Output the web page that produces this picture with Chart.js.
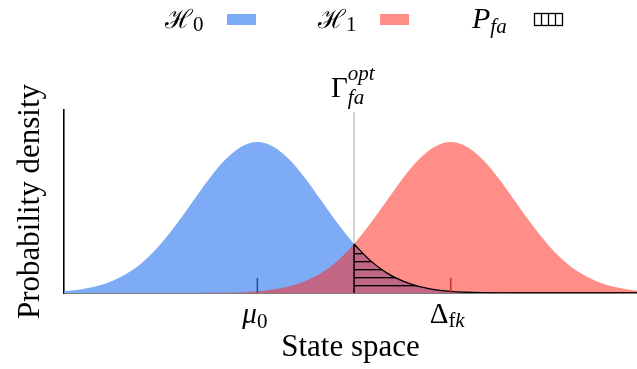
<!DOCTYPE html>
<html>
<head>
<meta charset="utf-8">
<script src="https://cdn.jsdelivr.net/npm/chart.js@4.4.1/dist/chart.umd.min.js"></script>
<style>
  body { margin: 0; background: #fff; }
  #wrap { width: 637px; height: 369px; }
</style>
</head>
<body>
<div id="wrap"><canvas id="myChart" width="637" height="369"></canvas></div>
<script>
"use strict";

// state space, in units of sigma (mu0 = 0, Delta_fk = 3)
const stateX = [-3, -2.75, -2.5, -2.25, -2, -1.75, -1.5, -1.25, -1, -0.75, -0.5, -0.25,
	0, 0.25, 0.5, 0.75, 1, 1.25, 1.5, 1.75, 2, 2.25, 2.5, 2.75,
	3, 3.25, 3.5, 3.75, 4, 4.25, 4.5, 4.75, 5, 5.25, 5.5, 5.75, 5.89];

// normalised densities (peak = 1)
const h0Density = [0.011, 0.023, 0.044, 0.080, 0.135, 0.216, 0.325, 0.458, 0.607, 0.755, 0.882, 0.969,
	1.000, 0.969, 0.882, 0.755, 0.607, 0.458, 0.325, 0.216, 0.135, 0.080, 0.044, 0.023,
	0.011, 0.005, 0.002, 0.001, 0, 0, 0, 0, 0, 0, 0, 0, 0];
const h1Density = [0, 0, 0, 0, 0, 0, 0, 0, 0, 0.001, 0.002, 0.005,
	0.011, 0.023, 0.044, 0.080, 0.135, 0.216, 0.325, 0.458, 0.607, 0.755, 0.882, 0.969,
	1.000, 0.969, 0.882, 0.755, 0.607, 0.458, 0.325, 0.216, 0.135, 0.080, 0.044, 0.023, 0.015];

const thresholdX = 1.5;        // Gamma_fa^opt
const tickValues = [0, 3];     // mu0, Delta_fk

const SERIF = '"Liberation Serif", "DejaVu Serif", serif';
const BLUE = '#7dabf5';
const RED = 'rgba(255, 38, 28, 0.52)';

// tick labels / legend labels as pieces of math text
const tickLabels = [
	[{t: 'μ', size: 29, it: true}, {t: '0', size: 21, dy: 5}],
	[{t: 'Δ', size: 29}, {t: 'f', size: 21, dy: 4}, {t: 'k', size: 21, it: true, dy: 4}]
];
const tickLabelShift = [-15, -21];
const legendLabels = [
	[{t: 'ℋ', size: 26}, {t: '0', size: 21, dy: 3}],
	[{t: 'ℋ', size: 26}, {t: '1', size: 21, dy: 3}],
	[{t: 'P', size: 30, it: true}, {t: 'fa', size: 21, it: true, dy: 5}]
];
const legendStart = [165, 318, 472];

function hatchPattern() {
	var c = document.createElement('canvas');
	c.width = 8; c.height = 8;
	var g = c.getContext('2d');
	g.fillStyle = '#000';
	g.fillRect(0, 5, 8, 1);
	g.fillStyle = 'rgba(0,0,0,0.35)';
	g.fillRect(0, 6, 8, 1);
	return document.getElementById('myChart').getContext('2d').createPattern(c, 'repeat');
}

function drawParts(ctx, x, y, parts) {
	parts.forEach(function (p) {
		ctx.font = (p.it ? 'italic ' : '') + p.size + 'px ' + SERIF;
		ctx.fillText(p.t, x, y + (p.dy || 0));
		x += ctx.measureText(p.t).width;
	});
	return x;
}

const points = (ys) => stateX.map((x, i) => ({x: x, y: ys[i]}));
const pfaPoints = points(h0Density).filter(p => p.x >= thresholdX);

const decorations = {
	id: 'decorations',
	beforeDatasetsDraw(chart) {
		const {ctx, scales: {x, y}} = chart;
		ctx.save();
		ctx.strokeStyle = '#d3d3d3';
		ctx.lineWidth = 2;
		ctx.beginPath();
		ctx.moveTo(x.getPixelForValue(thresholdX), y.getPixelForValue(1.2));
		ctx.lineTo(x.getPixelForValue(thresholdX), y.getPixelForValue(0));
		ctx.stroke();
		ctx.restore();
	},
	afterDatasetsDraw(chart) {
		const {ctx, scales: {x, y}} = chart;
		ctx.save();
		// left edge of the P_fa area
		ctx.strokeStyle = '#000';
		ctx.lineWidth = 1.5;
		ctx.beginPath();
		ctx.moveTo(x.getPixelForValue(thresholdX), y.getPixelForValue(pfaPoints[0].y));
		ctx.lineTo(x.getPixelForValue(thresholdX), y.getPixelForValue(0));
		ctx.stroke();
		// mean markers
		['#1f4e9e', '#c03030'].forEach(function (col, i) {
			ctx.strokeStyle = col;
			ctx.beginPath();
			ctx.moveTo(x.getPixelForValue(tickValues[i]), y.getPixelForValue(0));
			ctx.lineTo(x.getPixelForValue(tickValues[i]), y.getPixelForValue(0.1));
			ctx.stroke();
		});
		ctx.restore();
	},
	afterDraw(chart) {
		const {ctx, scales: {x}} = chart;
		ctx.save();
		ctx.fillStyle = '#000';
		ctx.textBaseline = 'alphabetic';
		// tick labels
		tickLabels.forEach(function (parts, i) {
			drawParts(ctx, x.getPixelForValue(tickValues[i]) + tickLabelShift[i], 323, parts);
		});
		// threshold label
		var tx = x.getPixelForValue(thresholdX) - 23;
		ctx.font = '29px ' + SERIF;
		ctx.fillText('Γ', tx, 97);
		var sx = tx + ctx.measureText('Γ').width;
		ctx.font = 'italic 21px ' + SERIF;
		ctx.fillText('opt', sx, 80);
		ctx.fillText('fa', sx, 104);
		// legend
		legendLabels.forEach(function (parts, i) {
			var lx = legendStart[i];
			drawParts(ctx, lx, 28, parts);
			var bx = lx + 62;
			if (i === 0 || i === 1) {
				ctx.fillStyle = i === 0 ? BLUE : RED;
				ctx.fillRect(bx, 14, 29, 11);
			} else {
				ctx.strokeStyle = '#000';
				ctx.lineWidth = 1.3;
				ctx.strokeRect(bx + 0.5, 13.5, 28, 12);
				for (var k = 1; k < 4; k++) {
					ctx.beginPath();
					ctx.moveTo(bx + 0.5 + k * 7, 13.5);
					ctx.lineTo(bx + 0.5 + k * 7, 25.5);
					ctx.stroke();
				}
			}
			ctx.fillStyle = '#000';
		});
		ctx.restore();
	}
};

const config = {
	type: 'line',
	data: {
		datasets: [
			{
				label: 'P_fa',
				data: pfaPoints,
				borderColor: '#000',
				borderWidth: 1.3,
				backgroundColor: hatchPattern(),
				fill: 'origin',
				pointRadius: 0,
				cubicInterpolationMode: 'monotone',
				order: 0
			},
			{
				label: 'H1',
				data: points(h1Density),
				borderWidth: 0,
				borderColor: 'rgba(0,0,0,0)',
				backgroundColor: RED,
				fill: 'origin',
				pointRadius: 0,
				cubicInterpolationMode: 'monotone',
				order: 1
			},
			{
				label: 'H0',
				data: points(h0Density),
				borderWidth: 0,
				borderColor: 'rgba(0,0,0,0)',
				backgroundColor: BLUE,
				fill: 'origin',
				pointRadius: 0,
				cubicInterpolationMode: 'monotone',
				order: 2
			}
		]
	},
	options: {
		responsive: false,
		animation: false,
		devicePixelRatio: 1,
		layout: {padding: {top: 110, left: 0, right: 0, bottom: 0}},
		plugins: {
			legend: {display: false},
			tooltip: {enabled: false}
		},
		scales: {
			x: {
				type: 'linear',
				min: -3,
				max: 5.89,
				grid: {display: false},
				ticks: {display: false},
				border: {display: true, color: '#000', width: 1.6},
				title: {
					display: true,
					text: 'State space',
					color: '#000',
					font: {family: SERIF, size: 31},
					padding: {top: 0, bottom: 3}
				},
				afterFit(s) { s.height = 76; }
			},
			y: {
				min: 0,
				max: 1.212,
				grid: {display: false},
				ticks: {display: false},
				border: {display: true, color: '#000', width: 1.6},
				title: {
					display: true,
					text: 'Probability density',
					color: '#000',
					font: {family: SERIF, size: 31},
					padding: {top: 12, bottom: 0}
				},
				afterFit(s) { s.width = 64; }
			}
		}
	},
	plugins: [decorations]
};

const myChart = new Chart(document.getElementById('myChart'), config);
</script>
</body>
</html>
